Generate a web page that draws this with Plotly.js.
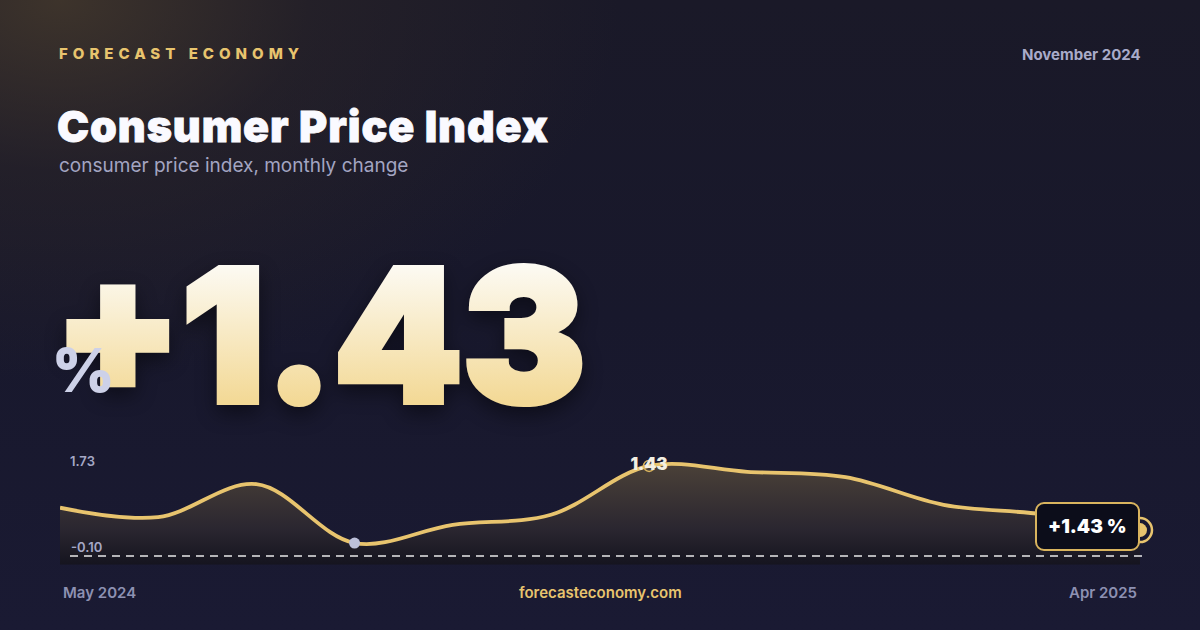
<!DOCTYPE html>
<html>
<head>
<meta charset="utf-8">
<script src="https://cdn.plot.ly/plotly-3.0.1.min.js"></script>
<style>
    html, body { margin: 0; padding: 0; }
    body {
        width: 1200px; height: 630px; overflow: hidden;
        background:
            radial-gradient(ellipse 560px 380px at 60px 0px, rgba(70,58,44,0.8) 0%, rgba(50,42,40,0.4) 45%, rgba(26,25,44,0) 100%),
            linear-gradient(180deg, #1a1928 0%, #18182c 50%, #1a1a33 100%);
    }
    #chart { width: 1200px; height: 630px; }
</style>
</head>
<body>
<div id="chart"></div>
<script>
var months = ["May 2024", "Jun 2024", "Jul 2024", "Aug 2024", "Sep 2024", "Oct 2024",
              "Nov 2024", "Dec 2024", "Jan 2025", "Feb 2025", "Mar 2025", "Apr 2025"];
var cpi = [0.72, 0.56, 1.12, 0.12, 0.43, 0.60, 1.43, 1.33, 1.24, 0.77, 0.61, 0.34];

var rangeLabels = ["1.73", "-0.10"];
var yTop = 1.73;
var yLow = -0.10;
var yBottom = -0.25;

var currentMonth = "Nov 2024";
var currentValue = 1.43;
var headline = "+1.43";
var title = "Consumer Price Index";

var gold = "#e8c46e";

window.drawCpiCard = (divID) => {

    var div = document.getElementById(divID);

    var last = months.length - 1;
    var lowIdx = cpi.indexOf(Math.min.apply(null, cpi));

    var baseLine = {
        x: months, y: months.map(() => yBottom),
        type: "scatter", mode: "lines",
        line: { width: 0 }, hoverinfo: "skip", showlegend: false
    };

    var cpiLine = {
        x: months, y: cpi,
        type: "scatter", mode: "lines",
        line: { color: gold, width: 3.8, shape: "spline", smoothing: 1 },
        fill: "tonexty",
        fillgradient: {
            type: "vertical",
            colorscale: [[0, "#15141f"], [0.35, "#2a2630"], [1, "#4b4138"]]
        },
        showlegend: false
    };

    var lowDot = {
        x: [months[lowIdx]], y: [cpi[lowIdx]],
        type: "scatter", mode: "markers",
        marker: { color: "#bcc0da", size: 11 },
        showlegend: false, cliponaxis: false
    };

    var currentDot = {
        x: [currentMonth], y: [currentValue],
        type: "scatter", mode: "markers+text",
        marker: { color: "rgba(0,0,0,0)", size: 11, line: { color: "#d9b45e", width: 1.5 } },
        text: [currentValue.toFixed(2)],
        textposition: "middle center",
        textfont: { family: "Inter", size: 17, weight: 900, color: "#f3efe2" },
        showlegend: false, cliponaxis: false
    };

    var endRing = {
        x: [months[last]], y: [cpi[last]],
        type: "scatter", mode: "markers",
        marker: { color: "rgba(0,0,0,0)", size: 24, line: { color: gold, width: 2.5 } },
        showlegend: false, cliponaxis: false
    };

    var endDot = {
        x: [months[last]], y: [cpi[last]],
        type: "scatter", mode: "markers",
        marker: { color: gold, size: 14 },
        showlegend: false, cliponaxis: false
    };

    var txt = (text, x, y, xanchor, size, weight, color) => ({
        text: text, xref: "paper", yref: "paper",
        x: x, y: y, xanchor: xanchor, yanchor: "middle", align: xanchor,
        showarrow: false,
        font: { family: "Inter", size: size, weight: weight, color: color }
    });

    var annotations = [
        txt("FORECAST ECONOMY", 57 / 1200, 1 - 53 / 630, "left", 15, 800, gold),
        txt("November 2024", 1143 / 1200, 1 - 54 / 630, "right", 15, 700, "#a9abc9"),
        txt(title, 55 / 1200, 1 - 126 / 630, "left", 43, 900, "#fafaff"),
        txt("consumer price index, monthly change", 57 / 1200, 1 - 166 / 630, "left", 19, 400, "#a3a5c2"),
        txt(headline, 52 / 1200, 1 - 335 / 630, "left", 184, 900, "#f7ebc8"),
        txt("%", 50 / 1200, 1 - 370 / 630, "left", 60, 900, "#cdd1e8"),
        txt(rangeLabels[0], 68 / 1200, 1 - 461 / 630, "left", 13, 600, "#a5a8c6"),
        txt(rangeLabels[1], 69 / 1200, 1 - 547 / 630, "left", 13, 600, "#a5a8c6"),
        txt(months[0], 61 / 1200, 1 - 592 / 630, "left", 15, 600, "#8d91b2"),
        txt("forecasteconomy.com", 0.5, 1 - 592 / 630, "center", 15, 600, gold),
        txt(months[last], 1139 / 1200, 1 - 592 / 630, "right", 15, 600, "#8d91b2"),
        {
            text: "+" + currentValue.toFixed(2) + " %",
            x: months[last], y: cpi[last], xref: "x", yref: "y",
            xanchor: "right", yanchor: "middle", xshift: 0, yshift: 4,
            showarrow: false,
            font: { family: "Inter", size: 19, weight: 900, color: "#ffffff" },
            bgcolor: "#0c0d1a", bordercolor: "#d9b45e", borderwidth: 2, borderpad: 11
        }
    ];

    var layout = {
        width: 1200, height: 630,
        margin: { t: 0, r: 0, b: 0, l: 0 },
        paper_bgcolor: "rgba(0,0,0,0)",
        plot_bgcolor: "rgba(0,0,0,0)",
        font: { family: "Inter", color: "#ffffff" },
        xaxis: {
            domain: [60 / 1200, 1140 / 1200],
            type: "category", range: [0, last],
            showgrid: false, zeroline: false, showticklabels: false, showline: false
        },
        yaxis: {
            domain: [(630 - 564.8) / 630, (630 - 448.3) / 630],
            range: [yBottom, yTop],
            showgrid: false, zeroline: false, showticklabels: false, showline: false
        },
        shapes: [
            {
                type: "line", xref: "paper", yref: "y",
                x0: 70 / 1200, x1: 1146 / 1200, y0: yLow, y1: yLow,
                line: { color: "rgba(255,255,255,0.9)", width: 1.5, dash: "8px,6px" }
            }
        ],
        annotations: annotations
    };

    var config = { staticPlot: true, displaylogo: false };

    Plotly.newPlot(div, [baseLine, cpiLine, lowDot, currentDot, endRing, endDot], layout, config).then(() => {
        // gradient fill + shadow on the big number, letter spacing on the brand line, rounded end box
        var svg = div.querySelector(".main-svg");
        var ns = "http://www.w3.org/2000/svg";
        var defs = svg.querySelector("defs") || svg.insertBefore(document.createElementNS(ns, "defs"), svg.firstChild);
        var grad = document.createElementNS(ns, "linearGradient");
        grad.setAttribute("id", "bigGrad");
        grad.setAttribute("x1", "0"); grad.setAttribute("y1", "0");
        grad.setAttribute("x2", "0"); grad.setAttribute("y2", "1");
        [["0.15", "#fdfcf8"], ["0.8", "#f3d996"]].forEach((s) => {
            var stop = document.createElementNS(ns, "stop");
            stop.setAttribute("offset", s[0]);
            stop.setAttribute("stop-color", s[1]);
            grad.appendChild(stop);
        });
        defs.appendChild(grad);

        div.querySelectorAll("g.annotation").forEach((g) => {
            var t = g.querySelector("text.annotation-text");
            if (!t) return;
            if (t.textContent === headline) {
                t.style.fill = "url(#bigGrad)";
                t.style.stroke = "url(#bigGrad)";
                t.style.strokeWidth = "6px";
                t.style.strokeLinejoin = "miter";
                t.style.filter = "drop-shadow(0px 8px 10px rgba(0,0,0,0.45))";
            }
            if (t.textContent === title) {
                t.style.letterSpacing = "0.9px";
                t.style.stroke = "#fafaff";
                t.style.strokeWidth = "0.8px";
            }
            if (t.textContent === "FORECAST ECONOMY") {
                t.style.letterSpacing = "5px";
            }
            if (t.textContent.indexOf(" %") > 0) {
                var r = g.querySelector("rect.bg");
                if (r) { r.setAttribute("rx", 8); r.setAttribute("ry", 8); }
            }
        });
    });
};

window.drawCpiCard("chart");
</script>
</body>
</html>
